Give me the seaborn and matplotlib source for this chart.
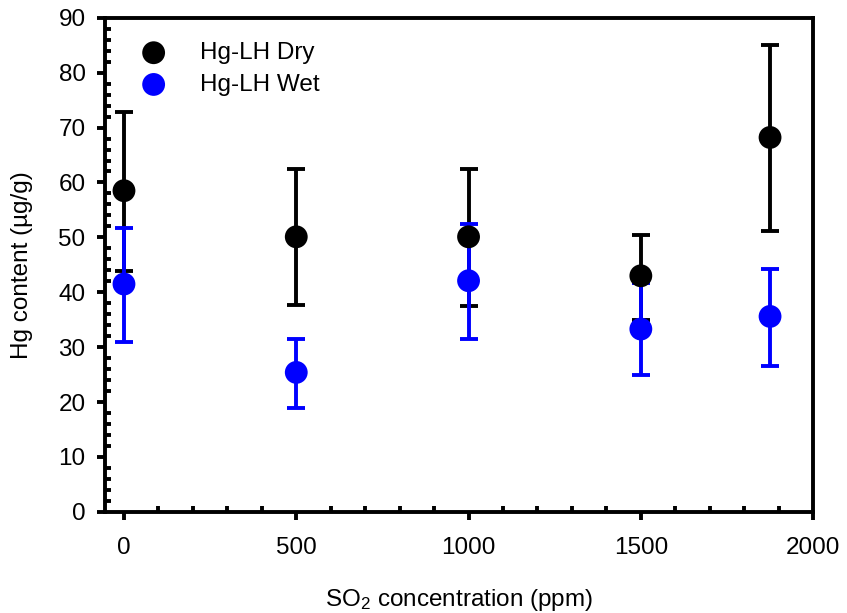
import pandas as pd
import seaborn as sns
import matplotlib.pyplot as plt
from matplotlib.ticker import MultipleLocator

sns.set_style("ticks", {"axes.edgecolor": "black", "text.color": "black",
                        "axes.labelcolor": "black", "xtick.color": "black",
                        "ytick.color": "black"})
plt.rcParams["font.family"] = ["Liberation Sans", "DejaVu Sans"]
plt.rcParams["mathtext.default"] = "regular"

# data
so2 = [0, 500, 1000, 1500, 1875]
dry_mean = [58.5, 50.1, 50.1, 43.0, 68.2]
dry_low = [43.8, 37.6, 37.5, 35.0, 51.1]
dry_high = [72.9, 62.5, 62.5, 50.5, 85.1]
wet_mean = [41.5, 25.4, 42.1, 33.3, 35.6]
wet_low = [31.0, 19.0, 31.5, 25.0, 26.6]
wet_high = [51.7, 31.5, 52.4, 41.7, 44.3]
series = ["Hg-LH Dry", "Hg-LH Wet"]
colors = {"Hg-LH Dry": "black", "Hg-LH Wet": "#0000ff"}

df = pd.DataFrame({
    "so2": so2 * 2,
    "hg": dry_mean + wet_mean,
    "low": dry_low + wet_low,
    "high": dry_high + wet_high,
    "serie": [series[0]] * len(so2) + [series[1]] * len(so2),
})

fig = plt.figure(figsize=(8.47, 6.13), dpi=100)
ax = fig.add_axes([0.124, 0.165, 0.836, 0.806])

for s in series:
    d = df[df["serie"] == s]
    ax.errorbar(d["so2"], d["hg"], yerr=[d["hg"] - d["low"], d["high"] - d["hg"]],
                fmt="none", ecolor=colors[s], elinewidth=2.8, capsize=6.5, capthick=2.8, zorder=2)
    sns.scatterplot(data=d, x="so2", y="hg", color=colors[s], s=270, edgecolor="none",
                    label=s, ax=ax, zorder=3)

ax.set_xlim(-55, 2000)
ax.set_ylim(0, 90)
ax.xaxis.set_major_locator(MultipleLocator(500))
ax.xaxis.set_minor_locator(MultipleLocator(100))
ax.yaxis.set_major_locator(MultipleLocator(10))
ax.yaxis.set_minor_locator(MultipleLocator(2))
ax.tick_params(which="major", direction="out", length=6, width=2.8, labelsize=17.5, pad=8)
ax.tick_params(axis="x", which="major", pad=12)
ax.tick_params(which="minor", direction="in", length=4, width=2.8)
for sp in ax.spines.values():
    sp.set_linewidth(2.8)
    sp.set_color("black")

ax.set_xlabel("SO$_2$ concentration (ppm)", fontsize=17.5, labelpad=20)
ax.set_ylabel("Hg content (\u00b5g/g)", fontsize=17.5, labelpad=18)

ax.legend(loc="upper left", frameon=False, fontsize=17.5, bbox_to_anchor=(0.0, 1.0),
          handletextpad=0.9, labelspacing=0.4, borderaxespad=0.6)

plt.savefig("out.png", dpi=100)
